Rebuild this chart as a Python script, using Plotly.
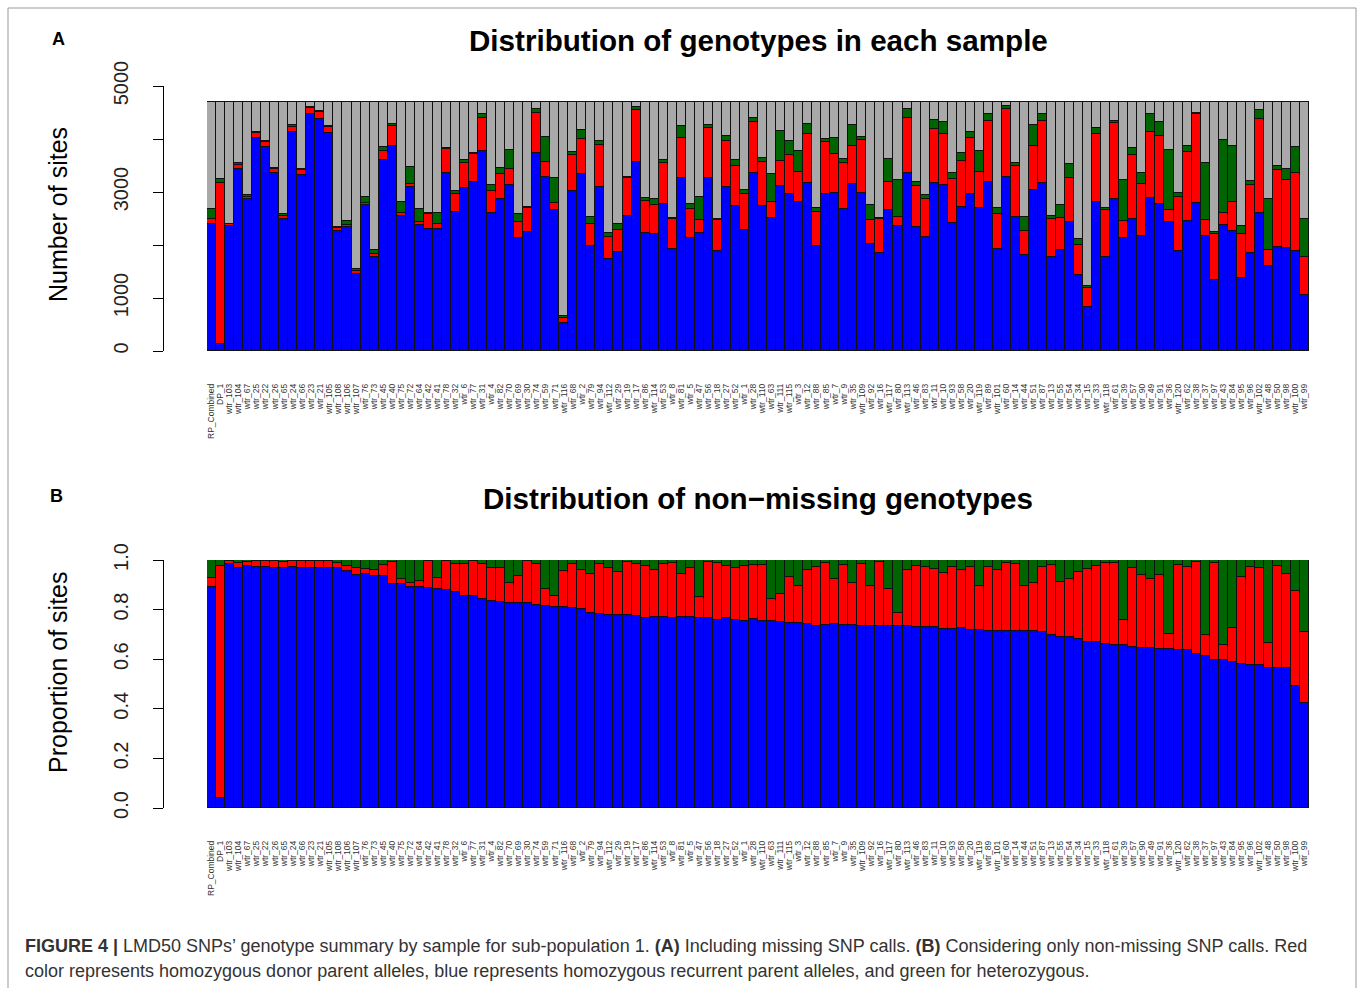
import plotly.graph_objects as go

W, H = 1358, 988

samples = ["RP_Combined", "DP_1", "wtr_103", "wtr_104", "wtr_67", "wtr_25", "wtr_22", "wtr_26", "wtr_65", "wtr_24",
           "wtr_66", "wtr_23", "wtr_21", "wtr_105", "wtr_108", "wtr_106", "wtr_107", "wtr_76", "wtr_73", "wtr_45",
           "wtr_40", "wtr_75", "wtr_72", "wtr_64", "wtr_42", "wtr_41", "wtr_78", "wtr_32", "wtr_6", "wtr_77",
           "wtr_31", "wtr_4", "wtr_82", "wtr_70", "wtr_69", "wtr_30", "wtr_74", "wtr_59", "wtr_71", "wtr_116",
           "wtr_68", "wtr_2", "wtr_79", "wtr_94", "wtr_112", "wtr_29", "wtr_19", "wtr_17", "wtr_86", "wtr_114",
           "wtr_53", "wtr_8", "wtr_81", "wtr_5", "wtr_47", "wtr_56", "wtr_18", "wtr_27", "wtr_52", "wtr_1",
           "wtr_28", "wtr_110", "wtr_63", "wtr_111", "wtr_115", "wtr_3", "wtr_12", "wtr_88", "wtr_85", "wtr_7",
           "wtr_9", "wtr_35", "wtr_109", "wtr_92", "wtr_16", "wtr_117", "wtr_80", "wtr_113", "wtr_46", "wtr_83",
           "wtr_11", "wtr_10", "wtr_93", "wtr_58", "wtr_20", "wtr_119", "wtr_89", "wtr_101", "wtr_60", "wtr_14",
           "wtr_44", "wtr_51", "wtr_87", "wtr_13", "wtr_55", "wtr_54", "wtr_34", "wtr_15", "wtr_33", "wtr_118",
           "wtr_61", "wtr_39", "wtr_57", "wtr_90", "wtr_49", "wtr_91", "wtr_36", "wtr_120", "wtr_62", "wtr_38",
           "wtr_37", "wtr_97", "wtr_43", "wtr_84", "wtr_95", "wtr_96", "wtr_102", "wtr_48", "wtr_50", "wtr_98",
           "wtr_100", "wtr_99"]

TOTAL_SITES = 4700

# homozygous recurrent parent (blue)
hom_rp = [2390, 126, 2360, 3440, 2860, 4010, 3855, 3350, 2500, 4130, 3320, 4465, 4385, 4105, 2265, 2340, 1460, 2750, 1780, 3600,
          3860, 2540, 3095, 2375, 2310, 2295, 3365, 2630, 3080, 3195, 3780, 2610, 2870, 3130, 2140, 2245, 3740, 3290, 2655, 535,
          3025, 3340, 1990, 3100, 1735, 1860, 2555, 3560, 2220, 2205, 2775, 1925, 3270, 2140, 2235, 3260, 1895, 3100, 2735, 2285,
          3350, 2735, 2515, 3115, 2955, 2820, 3175, 1985, 2955, 2975, 2680, 3145, 2975, 2020, 1845, 2660, 2365, 3350, 2335, 2145,
          3175, 3130, 2420, 2710, 2970, 2705, 3195, 1925, 3290, 2520, 1805, 3030, 3165, 1780, 1905, 2430, 1435, 825, 2805, 1780,
          2860, 2125, 2485, 2175, 2880, 2765, 2430, 1895, 2460, 2785, 2175, 1340, 2375, 2270, 1370, 1845, 2610, 1610, 1970, 1935,
          1895, 1055]
# homozygous donor parent (red)
hom_dp = [95, 3038, 30, 75, 50, 100, 95, 90, 55, 105, 90, 125, 125, 115, 50, 45, 45, 50, 50, 175,
          390, 55, 60, 65, 280, 110, 450, 340, 460, 515, 620, 410, 465, 310, 285, 460, 755, 275, 145, 95,
          675, 665, 400, 790, 420, 420, 705, 985, 610, 545, 770, 560, 740, 540, 240, 955, 570, 860, 755, 680,
          975, 830, 300, 475, 735, 560, 925, 635, 990, 735, 870, 725, 1005, 450, 650, 530, 170, 1045, 780, 715,
          1020, 970, 830, 875, 1050, 675, 1145, 655, 1275, 970, 460, 835, 1180, 715, 610, 825, 570, 360, 1295, 880,
          1435, 325, 1220, 980, 1250, 1300, 230, 1015, 1295, 1680, 295, 875, 235, 540, 830, 1280, 1775, 295, 1440, 1295,
          1470, 715]
# heterozygous (green)
het = [200, 75, 10, 40, 25, 20, 15, 15, 25, 20, 15, 20, 15, 20, 30, 60, 50, 110, 75, 80,
       30, 215, 315, 230, 10, 190, 10, 50, 55, 20, 75, 105, 115, 350, 165, 10, 80, 475, 470, 30,
       55, 165, 140, 70, 75, 115, 30, 65, 65, 115, 60, 30, 235, 95, 440, 40, 30, 95, 115, 70,
       80, 70, 520, 565, 270, 400, 180, 80, 50, 300, 80, 390, 65, 285, 20, 430, 690, 180, 80, 80,
       165, 225, 100, 155, 120, 395, 130, 110, 55, 50, 265, 390, 125, 50, 240, 275, 100, 45, 100, 30,
       50, 785, 130, 210, 335, 255, 1130, 65, 115, 30, 1080, 30, 1370, 1055, 160, 85, 155, 955, 80, 200,
       475, 720]

missing = [TOTAL_SITES - (b + r + g) for b, r, g in zip(hom_rp, hom_dp, het)]
nonmiss = [b + r + g for b, r, g in zip(hom_rp, hom_dp, het)]
p_rp = [b / n for b, n in zip(hom_rp, nonmiss)]
p_dp = [r / n for r, n in zip(hom_dp, nonmiss)]
p_het = [g / n for g, n in zip(het, nonmiss)]

top_ticks = [0, 1000, 2000, 3000, 4000, 5000]
top_ticktext = ["0", "1000", "", "3000", "", "5000"]
bot_ticks = [0, 0.2, 0.4, 0.6, 0.8, 1.0]
bot_ticktext = ["0.0", "0.2", "0.4", "0.6", "0.8", "1.0"]

BLUE, RED, GREEN, GRAY = "#0000FF", "#FF0000", "#006400", "#A9A9A9"
FONT = "Liberation Sans, Arial, sans-serif"

def px(x):
    return x / W

def py(y):
    return 1 - y / H

fig = go.Figure()
line = dict(color="#111111", width=1)
for vals, col in [(hom_rp, BLUE), (hom_dp, RED), (het, GREEN), (missing, GRAY)]:
    fig.add_trace(go.Bar(x=samples, y=vals, marker=dict(color=col, line=line),
                         xaxis="x", yaxis="y", hoverinfo="skip", showlegend=False))
for vals, col in [(p_rp, BLUE), (p_dp, RED), (p_het, GREEN)]:
    fig.add_trace(go.Bar(x=samples, y=vals, marker=dict(color=col, line=line),
                         xaxis="x2", yaxis="y2", hoverinfo="skip", showlegend=False))

xdom = [px(207), px(1309)]
xcommon = dict(type="category", range=[-0.5, len(samples) - 0.5], showline=False, showgrid=False,
               zeroline=False, ticks="", tickangle=-90, ticklabelstandoff=30, automargin=False,
               tickmode="array", tickvals=samples, ticktext=samples,
               tickfont=dict(family=FONT, size=8.5, color="#333333"), fixedrange=True)
ycommon = dict(anchor="free", position=px(163), showline=True, linecolor="black", linewidth=1,
               ticks="outside", ticklen=10, tickcolor="black", showgrid=False, zeroline=False,
               tickangle=-90, tickfont=dict(family=FONT, size=20, color="#222222"), fixedrange=True,
               ticklabelstandoff=17, automargin=False)

fig.update_layout(
    template="none",
    width=W, height=H, margin=dict(l=0, r=0, t=0, b=0, pad=0), autosize=False,
    paper_bgcolor="white", plot_bgcolor="white",
    barmode="stack", bargap=0,
    xaxis=dict(domain=xdom, anchor="y", **xcommon),
    yaxis=dict(domain=[py(351), py(86)], range=[0, 5000], tickvals=top_ticks, ticktext=top_ticktext, **ycommon),
    xaxis2=dict(domain=xdom, anchor="y2", **xcommon),
    yaxis2=dict(domain=[py(808), py(560)], range=[0, 1], tickvals=bot_ticks, ticktext=bot_ticktext, **ycommon),
    shapes=[dict(type="rect", xref="paper", yref="paper", x0=px(8), x1=px(1356), y0=py(1000), y1=py(8),
                 line=dict(color="#999999", width=1))],
)

ann = []
def add_text(text, x, y, size, xanchor="center", angle=0, color="black"):
    ann.append(dict(text=text, x=px(x), y=py(y), xref="paper", yref="paper", showarrow=False,
                    xanchor=xanchor, yanchor="middle", textangle=angle,
                    font=dict(family=FONT, size=size, color=color)))

add_text("<b>Distribution of genotypes in each sample</b>", 758, 41, 29.6)
add_text("<b>Distribution of non−missing genotypes</b>", 758, 498, 29.6)
add_text("<b>A</b>", 58, 39, 18)
add_text("<b>B</b>", 57, 496, 18)
add_text("Number of sites", 58, 215, 25, angle=-90)
add_text("Proportion of sites", 58, 672, 25, angle=-90)
add_text("<b>FIGURE 4 |</b> LMD50 SNPs’ genotype summary by sample for sub-population 1. <b>(A)</b> Including missing SNP calls. "
         "<b>(B)</b> Considering only non-missing SNP calls. Red", 23, 946, 18, xanchor="left", color="#333333")
add_text("color represents homozygous donor parent alleles, blue represents homozygous recurrent parent alleles, and green for heterozygous.",
         23, 971, 18, xanchor="left", color="#333333")
fig.update_layout(annotations=ann)

fig.write_html("out.html", config={"displayModeBar": False},
               post_script="document.body.style.margin='0';document.body.style.padding='0';")
